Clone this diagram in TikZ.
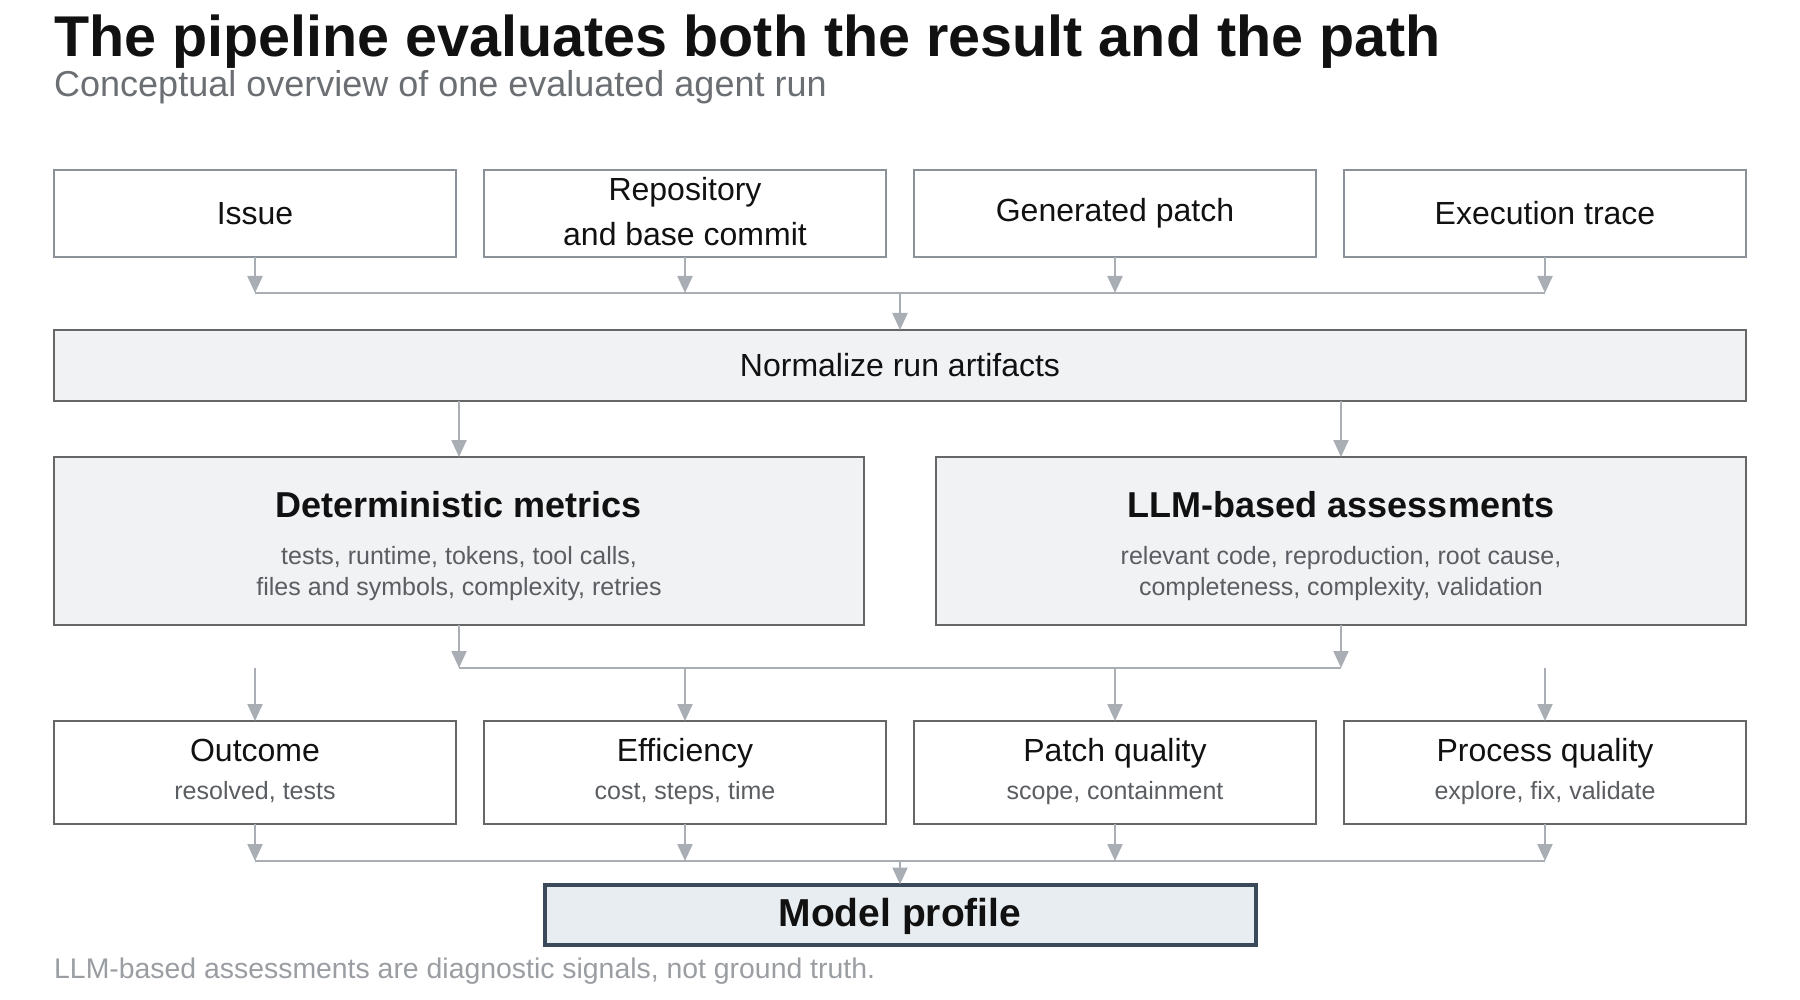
\documentclass[tikz,border=0pt]{standalone}
\usepackage{fontspec}
\setmainfont{Liberation Sans}
\usetikzlibrary{arrows.meta}
\definecolor{inkc}{HTML}{111111}
\definecolor{subc}{HTML}{6B6E73}
\definecolor{smallc}{HTML}{5A5D61}
\definecolor{footc}{HTML}{9A9DA1}
\definecolor{lightborder}{HTML}{8B9199}
\definecolor{darkborder}{HTML}{666666}
\definecolor{panelfill}{HTML}{F1F2F4}
\definecolor{profborder}{HTML}{3B4A5A}
\definecolor{proffill}{HTML}{E8EDF1}
\definecolor{wirec}{HTML}{A9AEB5}
\newcommand\myfs[1]{\fontsize{#1}{#1}\selectfont}
\begin{document}
\begin{tikzpicture}[x=1pt,y=-1pt,
  inbox/.style={draw=lightborder, line width=2.5pt, fill=white, minimum width=402pt, minimum height=87pt, inner sep=0pt, outer sep=0pt},
  panel/.style={draw=darkborder, line width=2.5pt, fill=panelfill, inner sep=0pt, outer sep=0pt},
  dimbox/.style={draw=darkborder, line width=2.5pt, fill=white, minimum width=402pt, minimum height=103pt, inner sep=0pt, outer sep=0pt},
  profbox/.style={draw=profborder, line width=4pt, fill=proffill, minimum width=711pt, minimum height=60pt, inner sep=0pt, outer sep=0pt},
  txt/.style={anchor=base, inner sep=0pt, text=inkc},
  small/.style={anchor=base, inner sep=0pt, text=smallc},
  wire/.style={draw=wirec, line width=2.2pt},
  arr/.style={draw=wirec, line width=2.2pt, -{Triangle[width=15pt,length=17pt]}}
]
\useasboundingbox (0,0) rectangle (1800,1000);
% title
\node[anchor=base west, inner sep=0pt, text=inkc] (title) at (54,57) {\myfs{57.5}\bfseries The pipeline evaluates both the result and the path};
\node[anchor=base west, inner sep=0pt, text=subc] (subtitle) at (54,97) {\myfs{36}Conceptual overview of one evaluated agent run};
% row 1
\node[inbox] (issue) at (255,213.5) {};
\node[inbox] (repo) at (685,213.5) {};
\node[inbox] (patch) at (1115,213.5) {};
\node[inbox] (trace) at (1545,213.5) {};
\node[txt] (tissue) at (255,225) {\myfs{32}Issue};
\node[txt] (trepo1) at (685,201) {\myfs{32}Repository};
\node[txt] (trepo2) at (685,246) {\myfs{32}and base commit};
\node[txt] (tpatch) at (1115,222) {\myfs{32}Generated patch};
\node[txt] (ttrace) at (1545,225) {\myfs{32}Execution trace};
% normalize
\node[panel, minimum width=1692pt, minimum height=71pt] (norm) at (900,365.5) {};
\node[txt] (tnorm) at (900,377) {\myfs{32}Normalize run artifacts};
% metrics
\node[panel, minimum width=810pt, minimum height=168pt] (det) at (459,541) {};
\node[panel, minimum width=810pt, minimum height=168pt] (llm) at (1341,541) {};
\node[txt] (tdet) at (459,517) {\myfs{36}\bfseries Deterministic metrics};
\node[small] (sdet1) at (459,564) {\myfs{25}tests, runtime, tokens, tool calls,};
\node[small] (sdet2) at (459,595) {\myfs{25}files and symbols, complexity, retries};
\node[txt] (tllm) at (1341,517) {\myfs{36}\bfseries LLM-based assessments};
\node[small] (sllm1) at (1341,564) {\myfs{25}relevant code, reproduction, root cause,};
\node[small] (sllm2) at (1341,595) {\myfs{25}completeness, complexity, validation};
% dimensions
\node[dimbox] (outcome) at (255,772.5) {};
\node[dimbox] (eff) at (685,772.5) {};
\node[dimbox] (pq) at (1115,772.5) {};
\node[dimbox] (procq) at (1545,772.5) {};
\node[txt] (toutcome) at (255,761) {\myfs{32}Outcome};
\node[small] (soutcome) at (255,799.5) {\myfs{25}resolved, tests};
\node[txt] (teff) at (685,761) {\myfs{32}Efficiency};
\node[small] (seff) at (685,799.5) {\myfs{25}cost, steps, time};
\node[txt] (tpq) at (1115,761) {\myfs{32}Patch quality};
\node[small] (spq) at (1115,799.5) {\myfs{25}scope, containment};
\node[txt] (tprocq) at (1545,761) {\myfs{32}Process quality};
\node[small] (sprocq) at (1545,799.5) {\myfs{25}explore, fix, validate};
% profile
\node[profbox] (prof) at (900,914.5) {};
\node[txt] (tprof) at (900,926) {\myfs{39}\bfseries Model profile};
% footnote
\node[anchor=base west, inner sep=0pt, text=footc] (foot) at (54,978) {\myfs{28.4}LLM-based assessments are diagnostic signals, not ground truth.};
% bus coordinates
\coordinate (b1) at (900,293);
\coordinate (b2) at (900,668);
\coordinate (b3) at (900,861);
% row 1 -> normalize
\foreach \n in {issue,repo,patch,trace} \draw[arr] (\n.south) -- (\n.south |- b1);
\draw[wire] (issue.south |- b1) -- (trace.south |- b1);
\draw[arr] (b1) -- (norm.north);
% normalize -> metrics
\draw[arr] (norm.south -| det.north) -- (det.north);
\draw[arr] (norm.south -| llm.north) -- (llm.north);
% metrics -> bus 2
\draw[arr] (det.south) -- (det.south |- b2);
\draw[arr] (llm.south) -- (llm.south |- b2);
\draw[wire] (det.south |- b2) -- (llm.south |- b2);
% bus 2 -> dimensions
\foreach \n in {outcome,eff,pq,procq} \draw[arr] (\n.north |- b2) -- (\n.north);
% dimensions -> bus 3
\foreach \n in {outcome,eff,pq,procq} \draw[arr] (\n.south) -- (\n.south |- b3);
\draw[wire] (outcome.south |- b3) -- (procq.south |- b3);
\draw[arr] (b3) -- (prof.north);
\end{tikzpicture}
\end{document}
